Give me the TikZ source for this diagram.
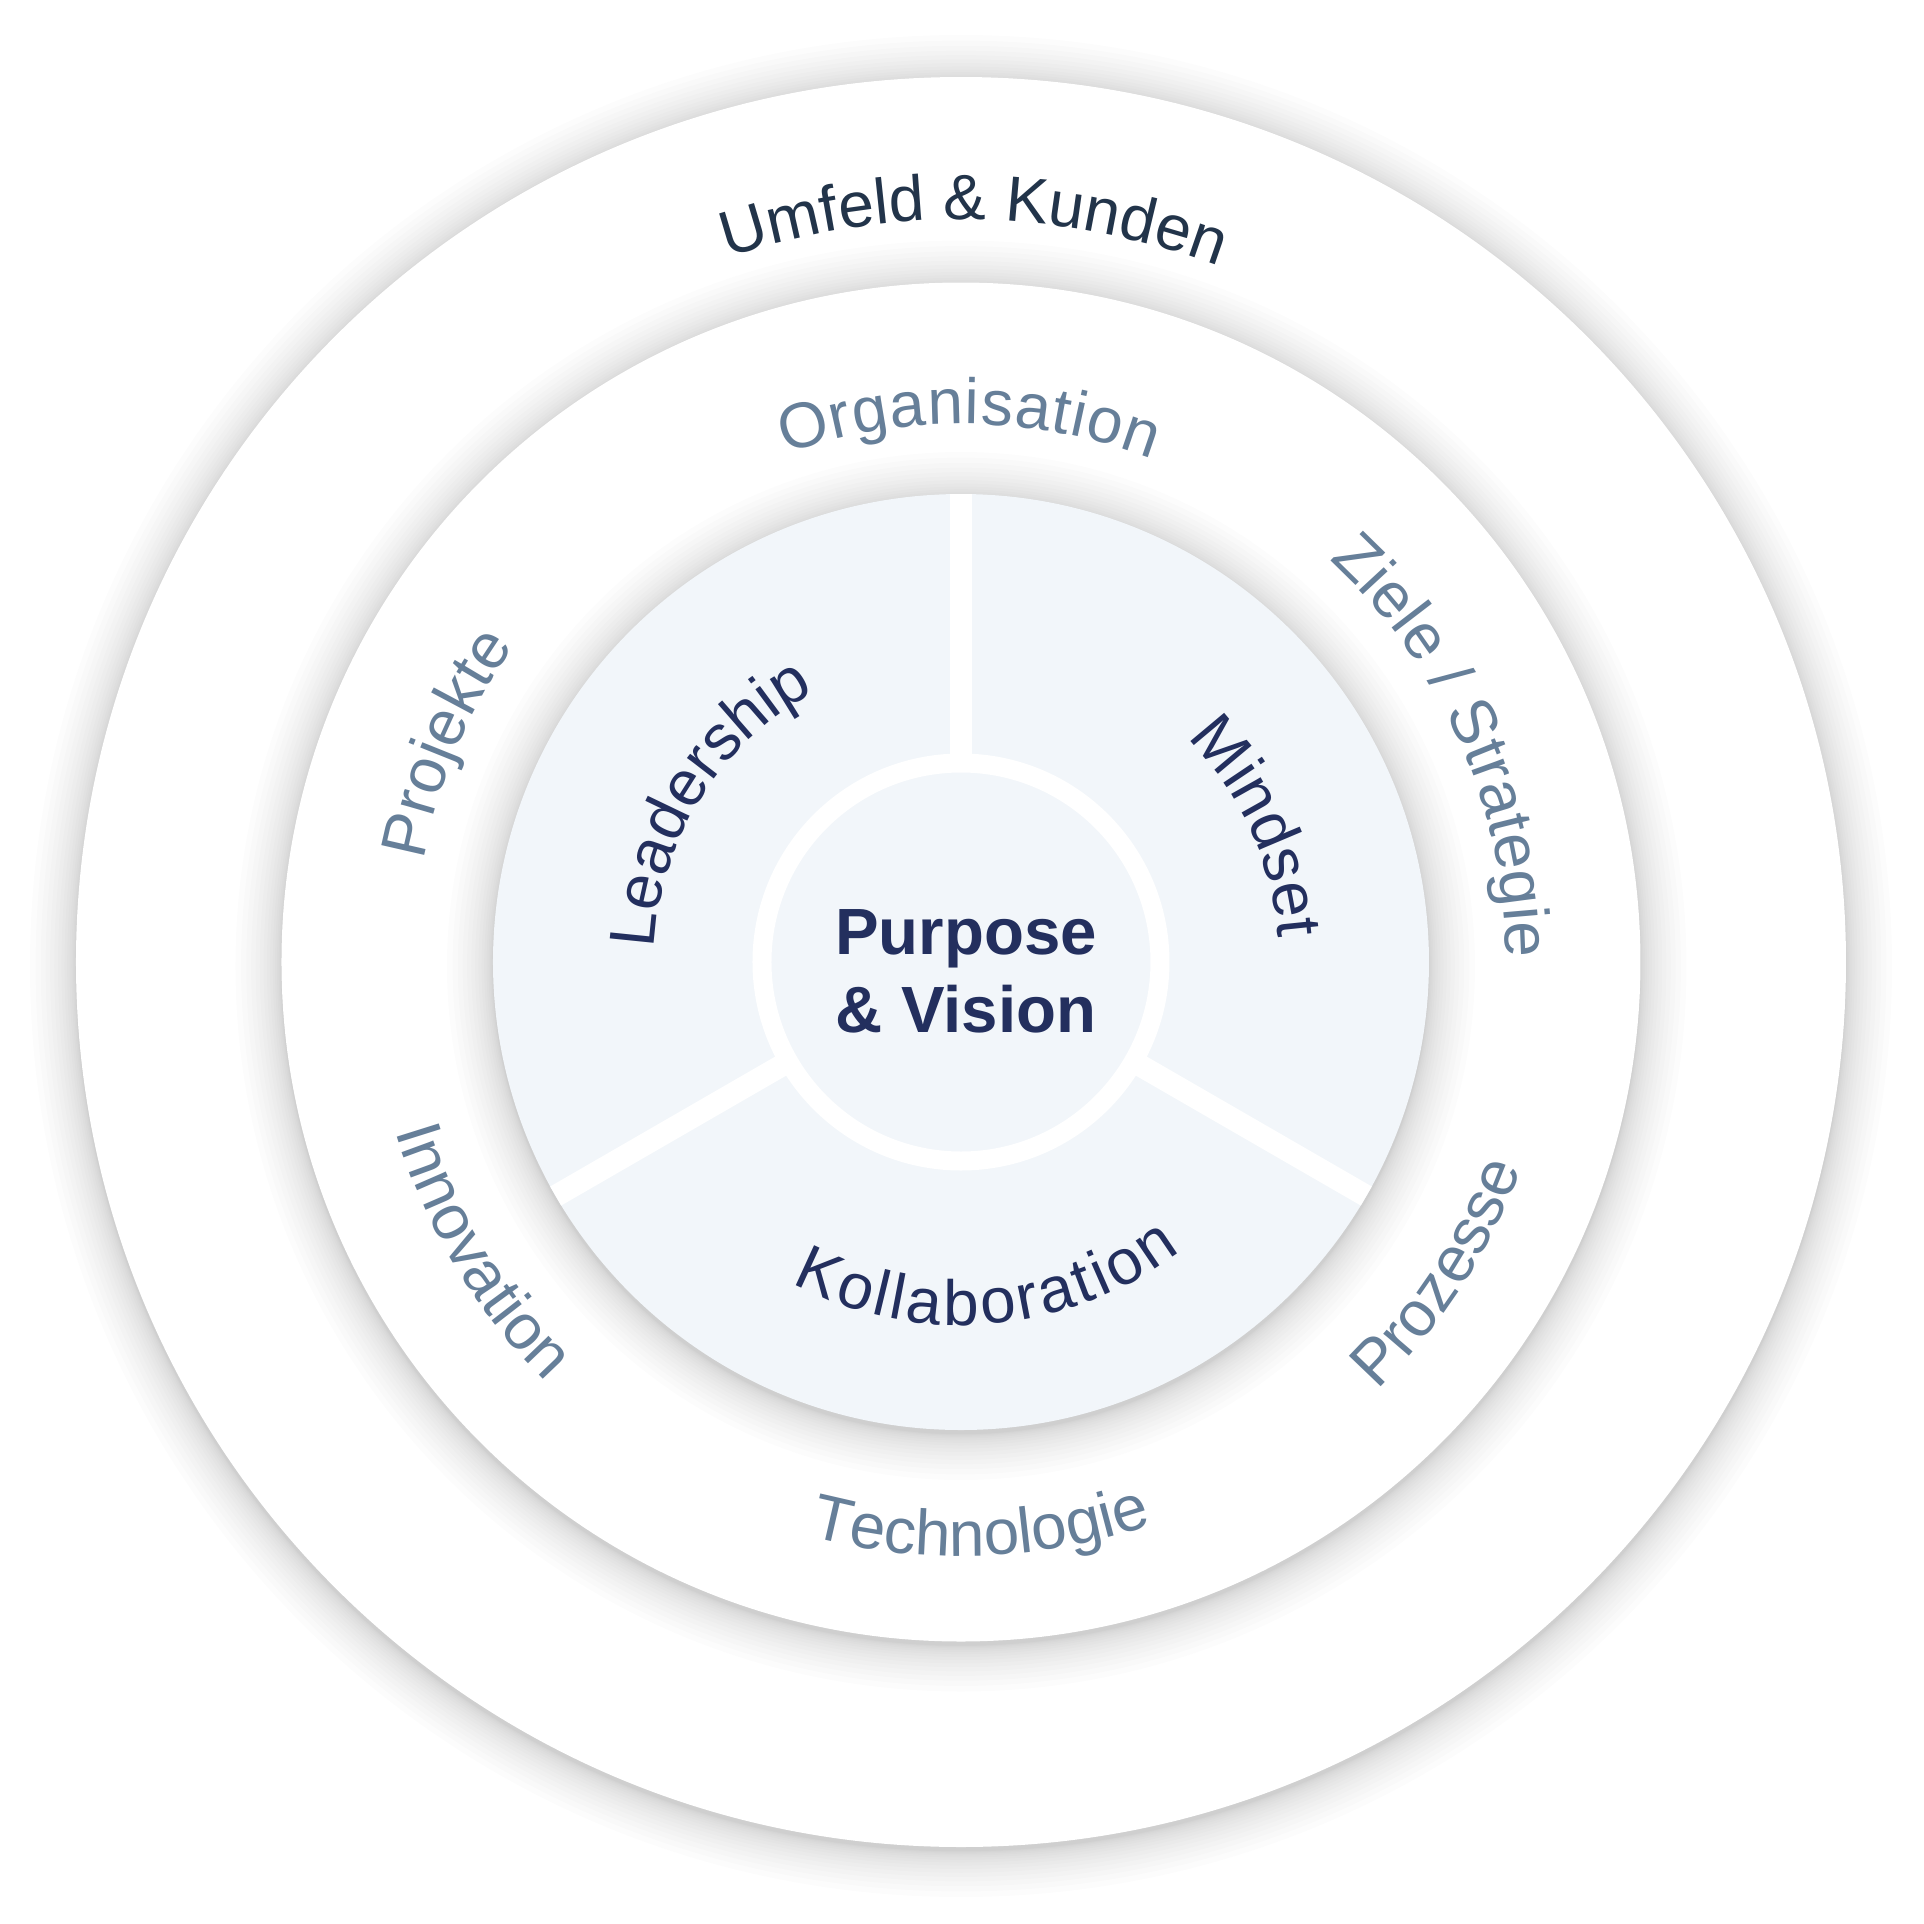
\documentclass[tikz,border=0pt]{standalone}
\usepackage{fontspec}
\setmainfont{Liberation Sans}
\usetikzlibrary{decorations.text}

\definecolor{navy}{HTML}{232F5E}
\definecolor{slate}{HTML}{667F99}
\definecolor{inkdark}{HTML}{22344A}
\definecolor{pale}{HTML}{F2F6FA}

\newcommand{\outerfont}{\fontsize{18.2}{22}\selectfont\color{inkdark}}
\newcommand{\midfont}{\fontsize{18.2}{22}\selectfont\color{slate}}
\newcommand{\innerfont}{\fontsize{18.2}{22}\selectfont\color{navy}}

% text on an arc, read clockwise (tops outward)
\newcommand{\cwlabel}[4]{%
  \path[decorate,decoration={text along path,text align=center,text={|#3|#4}}]
    (#2+70:#1) arc[start angle=#2+70,end angle=#2-70,radius=#1];}
% text on an arc, read counter-clockwise (tops inward)
\newcommand{\ccwlabel}[4]{%
  \path[decorate,decoration={text along path,text align=center,text={|#3|#4}}]
    (#2-70:#1) arc[start angle=#2-70,end angle=#2+70,radius=#1];}

\begin{document}
\begin{tikzpicture}
\useasboundingbox[fill=white] (-9.61,-9.62) rectangle (9.63,9.62);
\coordinate (o) at (0,0);

% rings with soft shadow
\foreach \r/\col in {8.85/white,6.795/white,4.68/pale}{
  \foreach \k in {1,...,16}
    \fill[black,opacity=0.011] (0,-0.04) circle ({\r+0.46*(\k/16)^2});
  \fill[\col] (o) circle (\r);
}

% spokes and centre
\foreach \a in {90,210,330}
  \draw[white,line width=0.22cm] (\a:2) -- (\a:4.68);
\draw[white,line width=0.19cm,fill=pale] (o) circle (1.99);
\node[navy,font=\fontsize{18.6}{22.2}\selectfont\bfseries,align=center,inner sep=0pt] (core) at (0.05,-0.095) {Purpose\\\& Vision};

% outer ring
\cwlabel{7.42}{89}{\outerfont}{Umfeld {\&} Kunden}

% middle ring
\cwlabel{5.38}{89.2}{\midfont\kern0.3pt}{Organisation}
\cwlabel{5.45}{24}{\midfont}{Ziele / Strategie}
\ccwlabel{5.97}{-33}{\midfont}{Prozesse}
\ccwlabel{5.94}{-88}{\midfont}{Technologie}
\ccwlabel{5.90}{211}{\midfont}{Innovation}
\cwlabel{5.47}{157}{\midfont}{Projekte}

% inner disk
\cwlabel{3.07}{148}{\innerfont}{Leadership}
\cwlabel{3.18}{24.5}{\innerfont}{Mindset}
\ccwlabel{3.63}{-85.5}{\innerfont\kern0.9pt}{Kollaboration}
\end{tikzpicture}
\end{document}
